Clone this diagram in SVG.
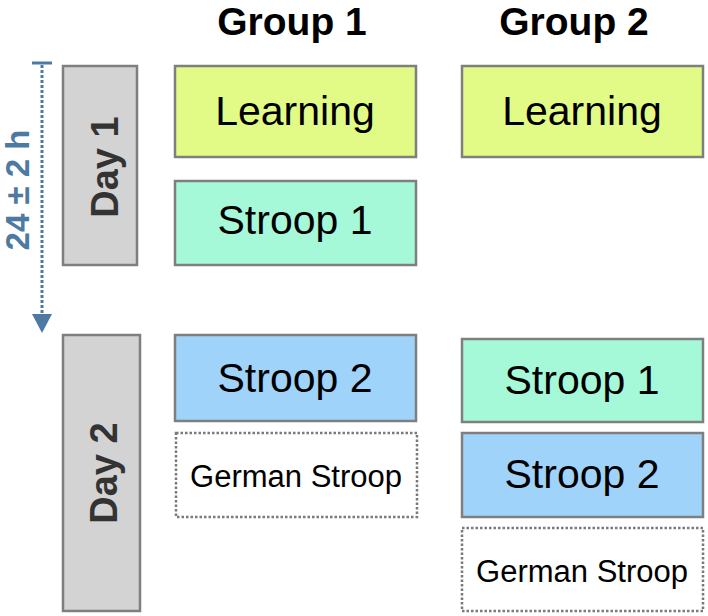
<svg xmlns="http://www.w3.org/2000/svg" width="708" height="616" viewBox="0 0 708 616">
<style>
text{font-family:"Liberation Sans",Arial,sans-serif;}
.box{stroke:#7f7f7f;stroke-width:2.5;}
.learn{fill:#e2fb86;}
.s1{fill:#a6f9d8;}
.s2{fill:#9fd3fa;}
.day{fill:#d3d3d3;stroke:#7f7f7f;stroke-width:2.5;}
.dot{fill:#ffffff;stroke:#7a7a7a;stroke-width:2.5;stroke-dasharray:2.5 2;}
.lbl{font-size:41px;fill:#000;text-anchor:middle;}
.sm{font-size:31px;fill:#000;text-anchor:middle;}
.hdr{font-size:39px;font-weight:bold;fill:#000;text-anchor:middle;}
.dayt{font-size:38px;font-weight:bold;fill:#333;text-anchor:middle;}
</style>
<rect width="708" height="616" fill="#ffffff"/>
<g id="headers">
<text class="hdr" x="292" y="35">Group 1</text>
<text class="hdr" x="574" y="35">Group 2</text>
</g>
<g id="connectors">
<line x1="42" y1="65" x2="42" y2="316" stroke="#4d7aa3" stroke-width="3" stroke-dasharray="3 2"/>
<line x1="32" y1="63" x2="52" y2="63" stroke="#4d7aa3" stroke-width="3"/>
<polygon points="32,314 52,314 42,333" fill="#4d7aa3"/>
<text x="0" y="0" transform="translate(29,190) rotate(-90)" font-size="33" font-weight="bold" fill="#4d7aa3" text-anchor="middle">24 ± 2 h</text>
</g>
<g id="day1">
<rect class="day" x="63" y="66" width="74" height="199"/>
<text class="dayt" transform="translate(118,167) rotate(-90)">Day 1</text>
</g>
<g id="day2">
<rect class="day" x="63" y="335" width="77" height="276"/>
<text class="dayt" transform="translate(117,473) rotate(-90)">Day 2</text>
</g>
<g id="g1-learning">
<rect class="box learn" x="175" y="66" width="241" height="91"/>
<text class="lbl" x="295" y="125">Learning</text>
</g>
<g id="g1-stroop1">
<rect class="box s1" x="175" y="181" width="241" height="84"/>
<text class="lbl" x="295" y="234">Stroop 1</text>
</g>
<g id="g1-stroop2">
<rect class="box s2" x="175" y="335" width="241" height="86"/>
<text class="lbl" x="295" y="392">Stroop 2</text>
</g>
<g id="g1-german">
<rect class="dot" x="176" y="433" width="241" height="84"/>
<text class="sm" x="296" y="487">German Stroop</text>
</g>
<g id="g2-learning">
<rect class="box learn" x="462" y="66" width="241" height="91"/>
<text class="lbl" x="582" y="125">Learning</text>
</g>
<g id="g2-stroop1">
<rect class="box s1" x="462" y="339" width="241" height="83"/>
<text class="lbl" x="582" y="394">Stroop 1</text>
</g>
<g id="g2-stroop2">
<rect class="box s2" x="462" y="433" width="241" height="84"/>
<text class="lbl" x="582" y="488">Stroop 2</text>
</g>
<g id="g2-german">
<rect class="dot" x="462" y="528" width="241" height="83"/>
<text class="sm" x="582" y="582">German Stroop</text>
</g>
</svg>
